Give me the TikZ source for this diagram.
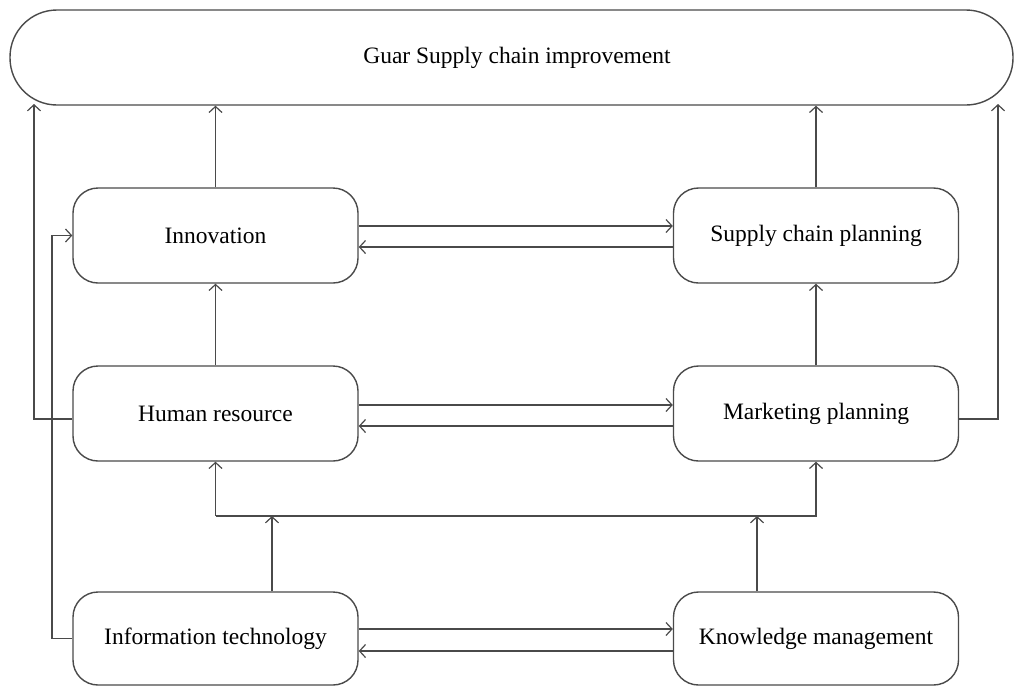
\documentclass[tikz,border=0pt]{standalone}
\usepackage{fontspec}
\setmainfont{Liberation Serif}
\usetikzlibrary{arrows.meta,calc}
\definecolor{linegray}{HTML}{4A4A4A}
\begin{document}
\begin{tikzpicture}[x=1pt,y=-1pt,
  box/.style={draw=linegray,line width=1.4pt,rounded corners=25pt,minimum width=285pt,minimum height=95pt,inner sep=0pt,font=\fontsize{23.5}{28}\selectfont,text=black},
  conn/.style={draw=linegray,line width=1.4pt},
  arr/.style={conn,-{Straight Barb[length=6pt,width=13pt,line width=1.2pt]}}]
\useasboundingbox[fill=white] (0,0) rectangle (1016,686);
\node[box,minimum width=1003pt,rounded corners=47pt] (top) at (511.5,57.5) {\hspace*{11pt}Guar Supply chain improvement};
\node[box] (inn) at (215.5,235.5) {Innovation};
\node[box] (scp) at (816,235.5) {Supply chain planning};
\node[box] (hr) at (215.5,413.5) {Human resource};
\node[box] (mp) at (816,413.5) {Marketing planning};
\node[box,minimum height=93pt] (it) at (215.5,638.5) {Information technology};
\node[box,minimum height=93pt] (km) at (816,638.5) {Knowledge management};
% up to top
\draw[arr] (inn.north) -- (inn.north |- top.south);
\draw[arr] (scp.north) -- (scp.north |- top.south);
\coordinate (lt) at (34,104);
\coordinate (rt) at (998,104);
\draw[arr] ($(hr.west)+(0,5.5)$) -| (lt);
\draw[arr] ($(mp.east)+(0,5.5)$) -| (rt);
% horizontal pairs
\draw[arr] ($(inn.east)+(0,-9.5)$) -- ($(scp.west)+(0,-9.5)$);
\draw[arr] ($(scp.west)+(0,11.5)$) -- ($(inn.east)+(0,11.5)$);
\draw[arr] ($(hr.east)+(0,-8.5)$) -- ($(mp.west)+(0,-8.5)$);
\draw[arr] ($(mp.west)+(0,12.5)$) -- ($(hr.east)+(0,12.5)$);
\draw[arr] ($(it.east)+(0,-9.5)$) -- ($(km.west)+(0,-9.5)$);
\draw[arr] ($(km.west)+(0,12.5)$) -- ($(it.east)+(0,12.5)$);
% verticals
\draw[arr] (hr.north) -- (inn.south);
\draw[arr] (mp.north) -- (scp.south);
% bus
\coordinate (bl) at (215.5,516);
\coordinate (br) at (816,516);
\draw[arr] (bl) -- (hr.south);
\draw[arr] (bl) -- (br) -- (mp.south);
\coordinate (itup) at (272,516);
\coordinate (kmup) at (757,516);
\draw[arr] (it.north -| itup) -- (itup);
\draw[arr] (km.north -| kmup) -- (kmup);
% IT to innovation
\coordinate (lx) at (52,0);
\draw[arr] (it.west) -- (it.west -| lx) -- (inn.west -| lx) -- (inn.west);
\end{tikzpicture}
\end{document}
